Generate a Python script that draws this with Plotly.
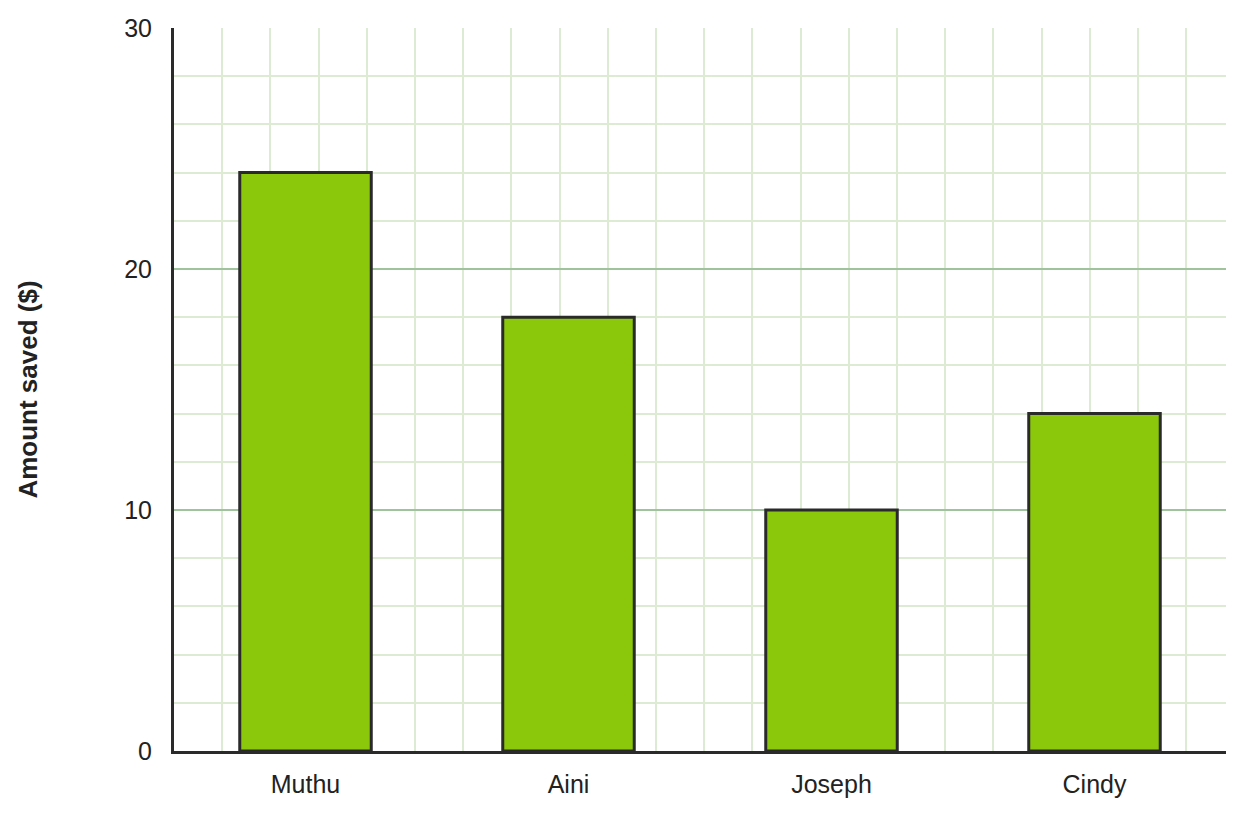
import plotly.graph_objects as go

# Data
names = ["Muthu", "Aini", "Joseph", "Cindy"]
amounts = [24, 18, 10, 14]
y_ticks = [0, 10, 20, 30]

# page body has an 8px default margin
W, H = 1236, 807
margin = dict(l=166, r=18, t=20, b=64, autoexpand=False)
plot_w = W - margin["l"] - margin["r"]
plot_h = H - margin["t"] - margin["b"]
x_range = [-0.5, len(names) - 0.5]
y_range = [0, 30]
# square grid: vertical spacing equals the pixel size of 2 y-units
px_per_y = plot_h / (y_range[1] - y_range[0])
px_per_x = plot_w / (x_range[1] - x_range[0])
x_minor_dtick = 2 * px_per_y / px_per_x

xpos = list(range(len(names)))

fig = go.Figure()
fig.add_trace(go.Bar(
    x=xpos, y=amounts, width=0.5,
    marker=dict(color="#8bc70a", line=dict(color="#2a2a2a", width=3)),
    hoverinfo="x+y",
))

font_family = "Liberation Sans, Arial, sans-serif"

fig.update_layout(
    width=W, height=H, margin=margin,
    plot_bgcolor="white", paper_bgcolor="white",
    showlegend=False,
    font=dict(family=font_family, size=26, color="#222222"),
    xaxis=dict(
        range=x_range, automargin=False,
        tickmode="array", tickvals=xpos, ticktext=names,
        showgrid=False, zeroline=False,
        showline=True, linecolor="#2a2a2a", linewidth=3,
        ticks="", ticklabelstandoff=9,
        tickfont=dict(size=25),
        minor=dict(tickmode="linear", tick0=x_range[0], dtick=x_minor_dtick,
                   showgrid=True, gridcolor="#dcebd2", gridwidth=2, ticks=""),
    ),
    yaxis=dict(
        range=y_range, automargin=False,
        tickmode="array", tickvals=y_ticks,
        showgrid=True, gridcolor="#9fc39c", gridwidth=2,
        zeroline=False,
        showline=True, linecolor="#2a2a2a", linewidth=3,
        ticks="", ticklabelstandoff=14,
        tickfont=dict(size=25),
        minor=dict(tickmode="linear", tick0=0, dtick=2,
                   showgrid=True, gridcolor="#dcebd2", gridwidth=2, ticks=""),
        title=dict(text="<b>Amount saved ($)</b>", standoff=80,
                   font=dict(size=26, color="#222222")),
    ),
)

fig.write_html("out.html")
